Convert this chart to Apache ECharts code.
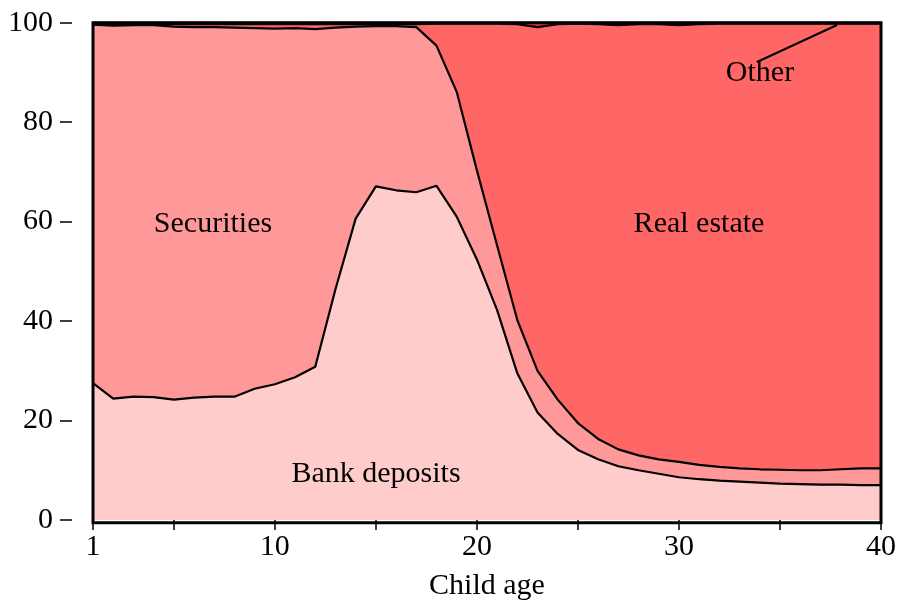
<!DOCTYPE html>
<html>
<head>
<meta charset="utf-8">
<script src="https://cdn.jsdelivr.net/npm/echarts@6/dist/echarts.min.js"></script>
<style>
  html, body { margin: 0; padding: 0; background: #fff; }
  #chart { width: 901px; height: 606px; }
</style>
</head>
<body>
<div id="chart"></div>
<script>
var ages = [];
for (var a = 1; a <= 40; a++) ages.push(String(a));

// portfolio shares (%) by child age
var bankDeposits = [27.5, 24.4, 24.8, 24.7, 24.2, 24.6, 24.8, 24.8, 26.4, 27.3,
                    28.7, 30.8, 46.4, 60.6, 67.1, 66.3, 65.9, 67.2, 61.0, 52.4,
                    42.2, 29.5, 21.6, 17.3, 14.1, 12.2, 10.8, 10.0, 9.3, 8.6,
                    8.2, 7.9, 7.7, 7.5, 7.3, 7.2, 7.1, 7.1, 7.0, 7.0];
var securities = [72.1, 75.0, 74.7, 74.8, 75.0, 74.5, 74.3, 74.2, 72.5, 71.5,
                  70.2, 67.9, 52.6, 38.6, 32.2, 33.0, 33.2, 28.2, 25.1, 17.9,
                  13.0, 10.7, 8.4, 6.9, 5.4, 4.1, 3.4, 3.0, 2.9, 3.1,
                  2.9, 2.8, 2.7, 2.7, 2.8, 2.8, 2.9, 3.1, 3.4, 3.4];
var realEstate = [0.1, 0.3, 0.2, 0.2, 0.5, 0.6, 0.6, 0.7, 0.8, 0.9,
                  0.8, 1.0, 0.7, 0.5, 0.4, 0.4, 0.6, 4.4, 13.7, 29.5,
                  44.6, 59.5, 69.1, 75.5, 80.3, 83.4, 85.3, 86.7, 87.5, 87.8,
                  88.6, 89.1, 89.4, 89.6, 89.7, 89.8, 89.8, 89.6, 89.4, 89.4];
var other = [0.3, 0.3, 0.3, 0.3, 0.3, 0.3, 0.3, 0.3, 0.3, 0.3,
             0.3, 0.3, 0.3, 0.3, 0.3, 0.3, 0.3, 0.2, 0.2, 0.2,
             0.2, 0.3, 0.9, 0.3, 0.2, 0.3, 0.5, 0.3, 0.3, 0.5,
             0.3, 0.2, 0.2, 0.2, 0.2, 0.2, 0.2, 0.2, 0.2, 0.2];

var FONT = '"Liberation Serif", "Times New Roman", serif';
var FS = 30;

var myChart = echarts.init(document.getElementById('chart'), null, { renderer: 'canvas' });

function layer(name, data, color) {
    return {
        name: name,
        type: 'line',
        stack: 'total',
        data: data,
        symbol: 'none',
        smooth: false,
        lineStyle: { color: '#000', width: 2.2 },
        areaStyle: { color: color, opacity: 1 },
        emphasis: { disabled: true }
    };
}

function label(text, x, y) {
    return {
        type: 'text',
        z: 110,
        style: {
            text: text, x: x, y: y,
            font: FS + 'px ' + FONT,
            fill: '#000',
            textAlign: 'center', align: 'center',
            textVerticalAlign: 'middle', verticalAlign: 'middle'
        }
    };
}

var option = {
    animation: false,
    grid: { left: 93, right: 20, top: 22.7, bottom: 83.3 },
    xAxis: {
        type: 'category',
        data: ages,
        boundaryGap: false,
        name: 'Child age',
        nameLocation: 'middle',
        nameGap: 51,
        nameTextStyle: { fontFamily: FONT, fontSize: FS, color: '#000' },
        axisLine: { show: false },
        axisTick: {
            length: 10,
            lineStyle: { color: '#000', width: 1.5 },
            interval: function (i) { return i === 0 || (i + 1) % 5 === 0; }
        },
        axisLabel: {
            margin: 12,
            fontFamily: FONT, fontSize: FS, color: '#000',
            interval: function (i) { return i === 0 || (i + 1) % 10 === 0; }
        },
        splitLine: { show: false }
    },
    yAxis: {
        type: 'value',
        min: 0, max: 100, interval: 20,
        offset: 21,
        axisLine: { show: false },
        axisTick: { show: true, length: 12, lineStyle: { color: '#000', width: 1.5 } },
        axisLabel: { margin: 19, fontFamily: FONT, fontSize: FS, color: '#000' },
        splitLine: { show: false }
    },
    series: [
        layer('Bank deposits', bankDeposits, '#ffcccc'),
        layer('Securities', securities, '#ff9999'),
        layer('Real estate', realEstate, '#ff6666'),
        layer('Other', other, '#ff3333')
    ],
    graphic: [
        {
            type: 'rect', z: 100,
            shape: { x: 93, y: 22.7, width: 788, height: 500 },
            style: { fill: 'none', stroke: '#000', lineWidth: 3 }
        },
        {
            type: 'line', z: 100,
            shape: { x1: 757, y1: 62, x2: 837, y2: 25 },
            style: { stroke: '#000', lineWidth: 2 }
        },
        label('Securities', 213, 224),
        label('Real estate', 699, 224),
        label('Bank deposits', 376, 474),
        label('Other', 760, 73)
    ]
};

myChart.setOption(option);
window.addEventListener('resize', function () {
    myChart.resize();
});
</script>
</body>
</html>
